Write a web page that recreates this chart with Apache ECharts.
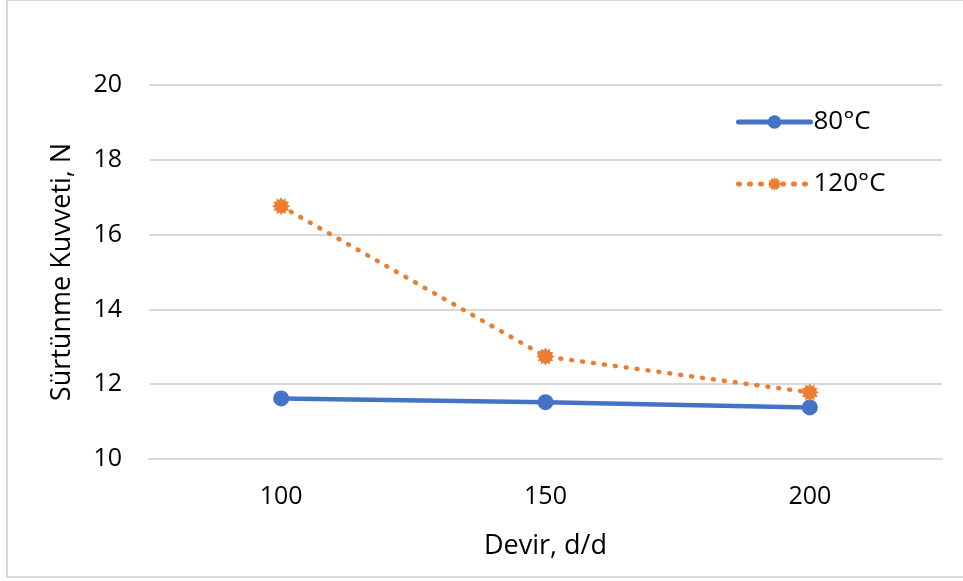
<!DOCTYPE html>
<html>
<head>
<meta charset="utf-8">
<script src="https://cdn.jsdelivr.net/npm/echarts@6/dist/echarts.min.js"></script>
<style>
  html, body { margin: 0; padding: 0; background: #fff; }
  #frame { position: absolute; left: 6px; top: 0; width: 963px; height: 578px;
           border: 2px solid #d9d9d9; border-top-width: 1px; box-sizing: border-box; }
  #chart { position: absolute; left: 0; top: 0; width: 963px; height: 581px; }
</style>
</head>
<body>
<div id="frame"></div>
<div id="chart"></div>
<script>
// Rotation speed (d/d) on the x axis
const categories = ['100', '150', '200'];
// Friction force (N) at each temperature
const series80 = [11.62, 11.52, 11.38];
const series120 = [16.76, 12.74, 11.78];
const seriesNames = ['80°C', '120°C'];

const FONT = '"Open Sans", sans-serif';

// Twelve-point burst used as the 120°C marker
function burstPath(points, inner) {
  let d = '';
  for (let i = 0; i < points * 2; i++) {
    const r = i % 2 === 0 ? 50 : 50 * inner;
    const a = Math.PI * i / points - Math.PI / 2;
    const x = (50 + r * Math.cos(a)).toFixed(2);
    const y = (50 + r * Math.sin(a)).toFixed(2);
    d += (i === 0 ? 'M' : 'L') + x + ',' + y + ' ';
  }
  return 'path://' + d + 'Z';
}
const burst = burstPath(12, 0.72);

const chart = echarts.init(document.getElementById('chart'), null, { renderer: 'canvas' });
chart.setOption({
  backgroundColor: 'transparent',
  animation: false,
  grid: { left: 149, right: 21, top: 85, bottom: 122, containLabel: false },
  legend: {
    orient: 'vertical',
    left: 731,
    top: 104,
    itemWidth: 72,
    itemHeight: 17,
    itemGap: 36,
    textStyle: { fontFamily: FONT, fontSize: 26, color: '#000', padding: [0, 0, 0, -2] },
    data: [
      { name: seriesNames[0], itemStyle: { color: '#4472c4' }, lineStyle: { color: '#4472c4', width: 5 } },
      { name: seriesNames[1], itemStyle: { color: '#ed7d31' }, lineStyle: { color: '#ed7d31', width: 5, type: [1, 10], cap: 'round' } }
    ]
  },
  xAxis: {
    type: 'category',
    data: categories,
    boundaryGap: true,
    axisLine: { show: true, lineStyle: { color: '#d9d9d9', width: 2 } },
    axisTick: { show: false },
    axisLabel: { fontFamily: FONT, fontSize: 25, color: '#000', margin: 25 },
    name: 'Devir, d/d',
    nameLocation: 'middle',
    nameGap: 74,
    nameTextStyle: { fontFamily: FONT, fontSize: 27, color: '#000' }
  },
  yAxis: {
    type: 'value',
    min: 10,
    max: 20,
    interval: 2,
    axisLine: { show: false },
    axisTick: { show: false },
    splitLine: { lineStyle: { color: '#d9d9d9', width: 2 } },
    axisLabel: { fontFamily: FONT, fontSize: 25, color: '#000', margin: 27 },
    name: 'Sürtünme Kuvveti, N',
    nameLocation: 'middle',
    nameGap: 73,
    nameRotate: 90,
    nameTextStyle: { fontFamily: FONT, fontSize: 27, color: '#000' }
  },
  series: [
    {
      name: seriesNames[0],
      type: 'line',
      data: series80,
      symbol: 'circle',
      symbolSize: 16,
      itemStyle: { color: '#4472c4' },
      lineStyle: { color: '#4472c4', width: 4.5, cap: 'round' },
      z: 3
    },
    {
      name: seriesNames[1],
      type: 'line',
      data: series120,
      symbol: burst,
      symbolSize: 18,
      itemStyle: { color: '#ed7d31' },
      lineStyle: { color: '#ed7d31', width: 4.5, type: [1, 10], cap: 'round' },
      z: 4
    }
  ]
});
</script>
</body>
</html>
